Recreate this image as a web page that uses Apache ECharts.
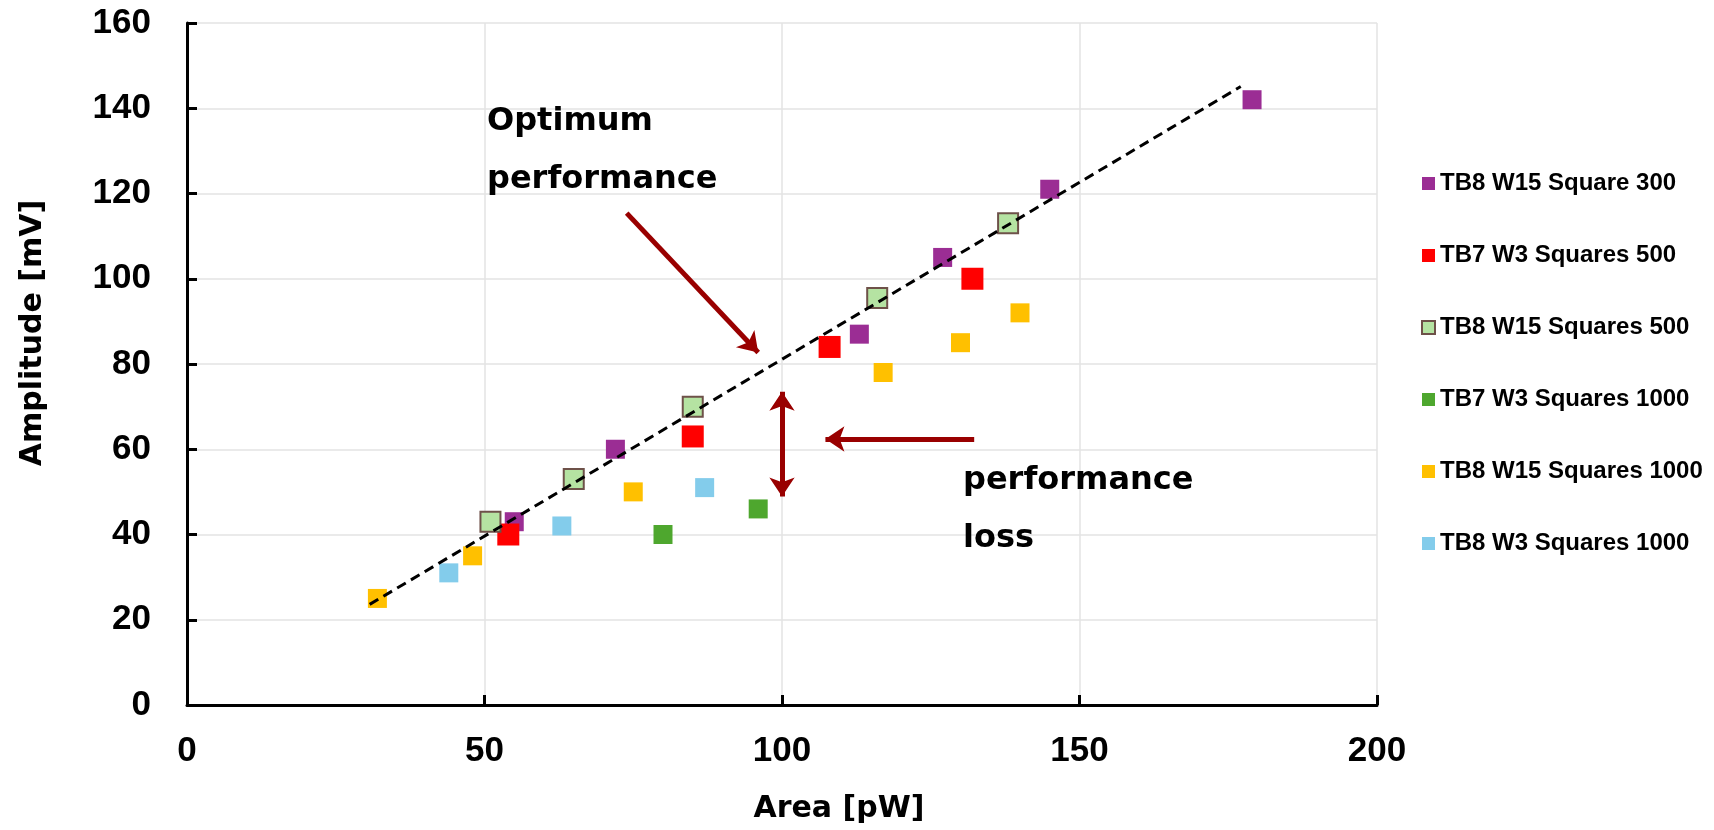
<!DOCTYPE html>
<html>
<head>
<meta charset="utf-8">
<script src="https://cdn.jsdelivr.net/npm/echarts@6/dist/echarts.min.js"></script>
<style>
html,body{margin:0;padding:0;background:#fff;}
#chart{width:1714px;height:830px;}
</style>
</head>
<body>
<div id="chart"></div>
<script>
// ---- data ----
const seriesNames = [
  'TB8 W15 Square 300',
  'TB7 W3 Squares 500',
  'TB8 W15 Squares 500',
  'TB7 W3 Squares 1000',
  'TB8 W15 Squares 1000',
  'TB8 W3 Squares 1000'
];
const tb8w15sq300 = [[55,43],[72,60],[113,87],[127,105],[145,121],[179,142]];
const tb7w3sq500 = [[54,40],[85,63],[108,84],[132,100]];
const tb8w15sq500 = [[51,43],[65,53],[85,70],[116,95.5],[138,113]];
const tb7w3sq1000 = [[80,40],[96,46]];
const tb8w15sq1000 = [[32,25],[48,35],[75,50],[117,78],[130,85],[140,92]];
const tb8w3sq1000 = [[44,31],[63,42],[87,51]];
const trendLine = [[30.7,23.6],[177.1,145.1]];
const arrowOptimum = [[73.9,115.4],[96,82.7]];
const arrowLossVertical = [[100,73.5],[100,48.9]];
const arrowLossHorizontal = [[132.3,62.4],[107.3,62.4]];
const xTicks = [0,50,100,150,200];
const yTicks = [0,20,40,60,80,100,120,140,160];
const annotationTop = 'Optimum\nperformance';
const annotationBottom = 'performance\nloss';

const colors = ['#9B2D94','#FF0000','#B5E3A2','#4EA72E','#FFC000','#83CCEB'];
const seriesData = [tb8w15sq300, tb7w3sq500, tb8w15sq500, tb7w3sq1000, tb8w15sq1000, tb8w3sq1000];
const sizes = [19, 22, 20, 19, 19, 19];

const chart = echarts.init(document.getElementById('chart'), null, {renderer:'canvas'});

const scatterSeries = seriesNames.map((name, i) => ({
  name: name,
  type: 'scatter',
  symbol: 'rect',
  symbolSize: sizes[i],
  data: seriesData[i],
  z: 3,
  itemStyle: i === 2
    ? {color: colors[i], opacity: 1, borderColor: '#6E5149', borderWidth: 2}
    : {color: colors[i], opacity: 1}
}));

const arrowColor = '#990000';
const arrowSeries = {
  type: 'lines',
  coordinateSystem: 'cartesian2d',
  z: 5,
  silent: true,
  symbolSize: 19,
  lineStyle: {color: arrowColor, width: 5, opacity: 1},
  data: [
    {coords: arrowOptimum, symbol: ['none','arrow']},
    {coords: arrowLossVertical, symbol: ['arrow','arrow']},
    {coords: arrowLossHorizontal, symbol: ['none','arrow']}
  ]
};

const option = {
  backgroundColor: '#fff',
  animation: false,
  grid: {left: 187, right: 337, top: 23, bottom: 125, containLabel: false},
  xAxis: {
    type: 'value', min: xTicks[0], max: xTicks[xTicks.length-1], interval: 50,
    name: 'Area [pW]', nameLocation: 'middle', nameGap: 89,
    nameTextStyle: {fontFamily: 'DejaVu Sans', fontWeight: 'bold', fontSize: 30, color: '#000', padding: [0,0,0,114]},
    axisLine: {show: true, lineStyle: {color: '#000', width: 3}},
    axisTick: {show: true, inside: true, length: 10, lineStyle: {color: '#000', width: 3}},
    axisLabel: {fontFamily: 'Liberation Sans', fontWeight: 'bold', fontSize: 35, color: '#000', margin: 29},
    splitLine: {show: true, lineStyle: {color: '#E3E3E3', width: 1.5}}
  },
  yAxis: {
    type: 'value', min: yTicks[0], max: yTicks[yTicks.length-1], interval: 20,
    name: 'Amplitude [mV]', nameLocation: 'middle', nameGap: 139,
    nameTextStyle: {fontFamily: 'DejaVu Sans', fontWeight: 'bold', fontSize: 30, color: '#000', padding: [0,0,0,62]},
    axisLine: {show: true, lineStyle: {color: '#000', width: 3}},
    axisTick: {show: true, inside: true, length: 10, lineStyle: {color: '#000', width: 3}},
    axisLabel: {fontFamily: 'Liberation Sans', fontWeight: 'bold', fontSize: 35, color: '#000', margin: 36},
    splitLine: {show: true, lineStyle: {color: '#E3E3E3', width: 1.5}}
  },
  legend: {
    data: seriesNames,
    orient: 'vertical',
    left: 1416, top: 166,
    itemWidth: 13, itemHeight: 13, itemGap: 47,
    icon: 'rect',
    textStyle: {fontFamily: 'Liberation Sans', fontWeight: 'bold', fontSize: 24, lineHeight: 25, color: '#000'}
  },
  graphic: [
    {type: 'text', left: 487, top: 93, z: 10,
     style: {text: annotationTop, fontFamily: 'DejaVu Sans', fontWeight: 'bold', fontSize: 32, lineHeight: 58, fill: '#000'}},
    {type: 'text', left: 963, top: 452, z: 10,
     style: {text: annotationBottom, fontFamily: 'DejaVu Sans', fontWeight: 'bold', fontSize: 32, lineHeight: 58, fill: '#000'}}
  ],
  series: scatterSeries.concat([
    {
      name: 'trend', type: 'line', data: trendLine, showSymbol: false, symbol: 'none', z: 4, silent: true,
      lineStyle: {color: '#000', width: 3, type: [10, 6]}
    },
    arrowSeries
  ])
};
chart.setOption(option);
</script>
</body>
</html>
